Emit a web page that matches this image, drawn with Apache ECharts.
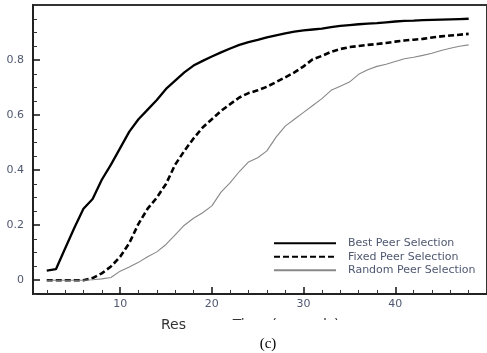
<!DOCTYPE html>
<html>
<head>
<meta charset="utf-8">
<script src="https://cdn.jsdelivr.net/npm/echarts@6/dist/echarts.min.js"></script>
<style>
html,body{margin:0;padding:0;background:#fff;}
#chart{width:487px;height:353px;}
</style>
</head>
<body>
<div id="chart"></div>
<script>
var responseTime = [2,3,4,5,6,7,8,9,10,11,12,13,14,15,16,17,18,19,20,21,22,23,24,25,26,27,28,29,30,31,32,33,34,35,36,37,38,39,40,41,42,43,44,45,46,47,48];
var bestPeer = [0.035,0.04,0.115,0.19,0.26,0.295,0.365,0.42,0.48,0.54,0.585,0.62,0.655,0.695,0.725,0.755,0.78,0.797,0.813,0.828,0.842,0.855,0.865,0.873,0.882,0.89,0.897,0.903,0.908,0.911,0.914,0.92,0.924,0.927,0.93,0.932,0.934,0.937,0.94,0.942,0.943,0.945,0.946,0.947,0.948,0.949,0.95];
var fixedPeer = [0,0,0,0,0,0.008,0.025,0.05,0.085,0.135,0.205,0.26,0.3,0.35,0.42,0.47,0.515,0.555,0.585,0.615,0.64,0.664,0.68,0.69,0.703,0.72,0.737,0.755,0.777,0.803,0.815,0.83,0.84,0.847,0.851,0.855,0.858,0.862,0.867,0.871,0.874,0.877,0.882,0.886,0.889,0.892,0.895];
var randomPeer = [0,0,0,0,0,0.002,0.005,0.01,0.033,0.048,0.065,0.085,0.103,0.13,0.165,0.2,0.225,0.245,0.27,0.32,0.355,0.395,0.43,0.445,0.47,0.52,0.56,0.585,0.61,0.635,0.66,0.69,0.705,0.72,0.748,0.765,0.777,0.785,0.795,0.805,0.81,0.817,0.825,0.835,0.843,0.85,0.855];
var seriesNames = ['Best Peer Selection','Fixed Peer Selection','Random Peer Selection'];
var xMajorTicks = [10,20,30,40];
var xMinorTicks = [2,4,6,8,12,14,16,18,22,24,26,28,32,34,36,38,42,44,46,48];
var yMajorTicks = [0,0.2,0.4,0.6,0.8];
var yMinorTicks = [-0.05,0.05,0.1,0.15,0.25,0.3,0.35,0.45,0.5,0.55,0.65,0.7,0.75,0.85,0.9,0.95];
var xTitle = 'Response Time (seconds)';
var caption = '(c)';

function pairs(ys){ return responseTime.map(function(x,i){ return [x, ys[i]]; }); }

var labelColor = '#4f5870';
var chart = echarts.init(document.getElementById('chart'), null, {renderer:'canvas'});
var option = {
  animation:false,
  backgroundColor:'#fff',
  grid:{left:33, top:5, right:-10, bottom:59, show:true, borderColor:'#333', borderWidth:2},
  xAxis:[{
    type:'value', min:0.5, max:50, gridIndex:0, position:'bottom',
    axisLine:{show:true, onZero:false, lineStyle:{color:'#222', width:2}},
    axisTick:{show:true, inside:true, length:7, customValues:xMajorTicks, lineStyle:{color:'#111', width:1.5}},
    axisLabel:{show:true, customValues:xMajorTicks, color:labelColor, fontFamily:'DejaVu Sans', fontSize:11, margin:5},
    splitLine:{show:false}
  },{
    type:'value', min:0.5, max:50, gridIndex:0, position:'bottom',
    axisLine:{show:false, onZero:false},
    axisTick:{show:true, inside:true, length:4, customValues:xMinorTicks, lineStyle:{color:'#333', width:1}},
    axisLabel:{show:false},
    splitLine:{show:false}
  }],
  yAxis:[{
    type:'value', min:-0.05, max:1, gridIndex:0, position:'left',
    axisLine:{show:true, onZero:false, lineStyle:{color:'#222', width:2}},
    axisTick:{show:true, inside:true, length:7, customValues:yMajorTicks, lineStyle:{color:'#111', width:1.5}},
    axisLabel:{show:true, customValues:yMajorTicks, color:labelColor, fontFamily:'DejaVu Sans', fontSize:11, margin:9,
      formatter:function(v){ return String(Math.round(v*10)/10); }},
    splitLine:{show:false}
  },{
    type:'value', min:-0.05, max:1, gridIndex:0, position:'left',
    axisLine:{show:false, onZero:false},
    axisTick:{show:true, inside:true, length:4, customValues:yMinorTicks, lineStyle:{color:'#333', width:1}},
    axisLabel:{show:false},
    splitLine:{show:false}
  }],
  legend:{
    orient:'vertical', left:273, top:237, padding:0,
    itemWidth:62, itemHeight:10, itemGap:1,
    itemStyle:{opacity:0},
    data:seriesNames,
    textStyle:{color:labelColor, fontFamily:'DejaVu Sans', fontSize:11, lineHeight:12.5, padding:[0,0,0,7]}
  },
  series:[{
    name:seriesNames[0], type:'line', data:pairs(bestPeer), showSymbol:false, symbol:'none',
    lineStyle:{color:'#000', width:2.3, type:'solid'}, itemStyle:{color:'#000'}
  },{
    name:seriesNames[1], type:'line', data:pairs(fixedPeer), showSymbol:false, symbol:'none',
    lineStyle:{color:'#000', width:2.6, type:[6,3]}, itemStyle:{color:'#000'}
  },{
    name:seriesNames[2], type:'line', data:pairs(randomPeer), showSymbol:false, symbol:'none',
    lineStyle:{color:'#888', width:1.1, type:'solid'}, itemStyle:{color:'#888'}
  }],
  graphic:[
    {type:'text', x:161, y:325, style:{text:xTitle, font:'14px "DejaVu Sans"', fill:'#333', verticalAlign:'middle'}},
    {type:'rect', shape:{x:187, y:320, width:155, height:14}, style:{fill:'#fff'}},
    {type:'text', x:268, y:344, style:{text:caption, font:'15px "Liberation Serif"', fill:'#000', align:'center', verticalAlign:'middle'}}
  ]
};
chart.setOption(option);
</script>
</body>
</html>
